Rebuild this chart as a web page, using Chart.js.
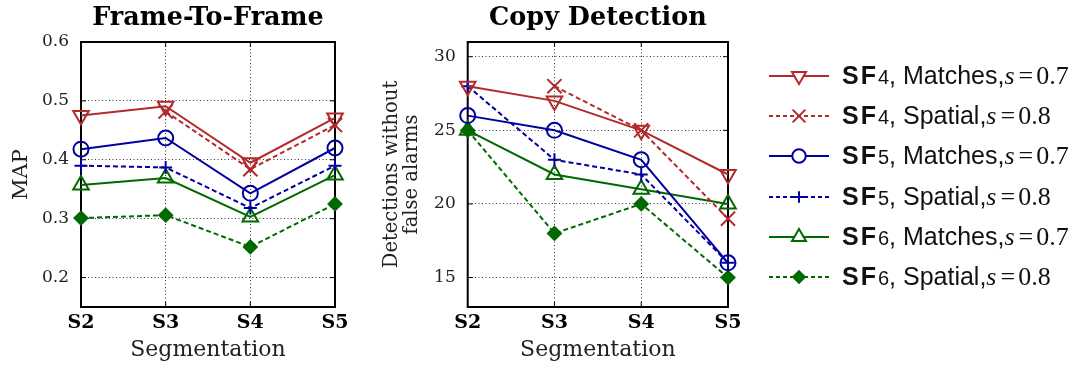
<!DOCTYPE html>
<html>
<head>
<meta charset="utf-8">
<script src="https://cdn.jsdelivr.net/npm/chart.js@4.4.1/dist/chart.umd.min.js"></script>
<style>
  body { margin: 0; background: #fff; width: 1084px; height: 365px; overflow: hidden; position: relative; }
  .box { position: absolute; top: 0; height: 365px; }
  #legend { position: absolute; left: 768px; top: 56px; }
  .row { display: flex; align-items: center; height: 40.2px; white-space: nowrap; }
  .row canvas { width: 62px; height: 26px; margin-right: 12px; }
  .lab { font-family: "Liberation Sans", Arial, sans-serif; font-size: 25px; color: #111; }
  .lab b { letter-spacing: 2px; }
  .lab .n { font-size: 20px; }
  .lab .m { font-family: "Liberation Serif", serif; font-size: 26px; }
  .lab .m .eq { margin: 0 3px 0 4px; }
</style>
</head>
<body>
<div class="box" style="left:0;width:360px"><canvas id="chart_f2f" width="360" height="365"></canvas></div>
<div class="box" style="left:370px;width:380px"><canvas id="chart_copy" width="380" height="365"></canvas></div>
<div id="legend"></div>
<script>
// segmentation levels on the x axis
var segments = ["S2", "S3", "S4", "S5"];

// Frame-To-Frame MAP
var mapSF4Matches = [0.475, 0.491, 0.395, 0.471];
var mapSF4Spatial = [null, 0.482, 0.384, 0.459];
var mapSF5Matches = [0.418, 0.437, 0.343, 0.420];
var mapSF5Spatial = [0.390, 0.387, 0.318, 0.390];
var mapSF6Matches = [0.357, 0.369, 0.303, 0.374];
var mapSF6Spatial = [0.301, 0.306, 0.252, 0.325];
var mapTicks = [0.2, 0.3, 0.4, 0.5, 0.6];

// Copy detection: detections without false alarms
var detSF4Matches = [28, 27, 25, 22];
var detSF4Spatial = [null, 28, 25, 19];
var detSF5Matches = [26, 25, 23, 16];
var detSF5Spatial = [28, 23, 22, 16];
var detSF6Matches = [25, 22, 21, 20];
var detSF6Spatial = [25, 18, 20, 15];
var detTicks = [15, 20, 25, 30];

var seriesNames = [
  ["SF", "4", "Matches", "0.7"],
  ["SF", "4", "Spatial", "0.8"],
  ["SF", "5", "Matches", "0.7"],
  ["SF", "5", "Spatial", "0.8"],
  ["SF", "6", "Matches", "0.7"],
  ["SF", "6", "Spatial", "0.8"]
];

var red = "#b22a2a", blue = "#0000a0", green = "#006a00";
var styles = [
  { color: red,   dash: [],     point: "triangle", rot: 180, r: 9,   fill: false },
  { color: red,   dash: [5, 3], point: "crossRot", rot: 0,   r: 10,  fill: false },
  { color: blue,  dash: [],     point: "circle",   rot: 0,   r: 7.5, fill: false },
  { color: blue,  dash: [5, 3], point: "cross",    rot: 0,   r: 6.5, fill: false },
  { color: green, dash: [],     point: "triangle", rot: 0,   r: 9,   fill: false },
  { color: green, dash: [5, 3], point: "rectRot",  rot: 0,   r: 6.5, fill: true }
];

var serif = "'DejaVu Serif', serif";

// box around the plot area with small inner ticks
var frame = {
  id: "frame",
  beforeDatasetsDraw: function (chart) {
    var ctx = chart.ctx, a = chart.chartArea, sx = chart.scales.x, sy = chart.scales.y;
    ctx.save();
    ctx.strokeStyle = "#000";
    ctx.lineWidth = 1;
    ctx.beginPath();
    sy.ticks.forEach(function (t) {
      var y = sy.getPixelForValue(t.value);
      ctx.moveTo(a.left, y); ctx.lineTo(a.left + 5, y);
      ctx.moveTo(a.right, y); ctx.lineTo(a.right - 5, y);
    });
    sx.ticks.forEach(function (t, i) {
      var x = sx.getPixelForTick(i);
      ctx.moveTo(x, a.bottom); ctx.lineTo(x, a.bottom - 5);
      ctx.moveTo(x, a.top); ctx.lineTo(x, a.top + 5);
    });
    ctx.stroke();
    ctx.lineWidth = 2;
    ctx.strokeRect(a.left, a.top, a.right - a.left, a.bottom - a.top);
    ctx.restore();
  }
};

function makeDatasets(values) {
  return values.map(function (v, i) {
    var s = styles[i];
    return {
      label: seriesNames[i].join(" "),
      data: v,
      borderColor: s.color,
      backgroundColor: s.fill ? s.color : "transparent",
      borderWidth: 2,
      borderDash: s.dash,
      pointStyle: s.point,
      pointRotation: s.rot,
      pointRadius: s.r,
      pointBorderWidth: 2,
      pointBackgroundColor: s.fill ? s.color : "transparent",
      pointBorderColor: s.color,
      tension: 0,
      spanGaps: false,
      clip: false
    };
  });
}

function makeChart(id, title, yTitle, yMin, yMax, ticks, fmt, yWidth, padRight, values) {
  var twoLines = Array.isArray(yTitle);
  return new Chart(document.getElementById(id), {
    type: "line",
    data: { labels: segments, datasets: makeDatasets(values) },
    plugins: [frame],
    options: {
      responsive: false,
      animation: false,
      layout: { padding: { top: 0, right: padRight, bottom: 0, left: 0 } },
      plugins: {
        legend: { display: false },
        tooltip: { enabled: false },
        title: {
          display: true,
          fullSize: false,
          text: title,
          color: "#000",
          font: { family: serif, size: 25.5, weight: "bold", lineHeight: 1.2 },
          padding: { top: 3.4, bottom: 8 }
        }
      },
      scales: {
        x: {
          type: "category",
          offset: false,
          border: { display: false, dash: [1, 2.5] },
          grid: { color: "#000", lineWidth: 0.8, drawTicks: false },
          ticks: { color: "#000", padding: 5, font: { family: serif, size: 19, weight: "bold" } },
          title: {
            display: true, text: "Segmentation", color: "#222",
            font: { family: serif, size: 22, lineHeight: 1.2 }, padding: { top: 0, bottom: 2 }
          },
          afterFit: function (scale) { scale.height = 58; }
        },
        y: {
          min: yMin,
          max: yMax,
          border: { display: false, dash: [1, 2.5] },
          grid: { color: "#000", lineWidth: 0.8, drawTicks: false },
          ticks: {
            color: "#222", padding: 12, font: { family: serif, size: 17 },
            callback: fmt
          },
          afterBuildTicks: function (scale) {
            scale.ticks = ticks.map(function (v) { return { value: v }; });
          },
          title: {
            display: true, text: yTitle, color: "#222",
            font: { family: serif, size: twoLines ? 19.5 : 21, lineHeight: twoLines ? 1.05 : 1.2 },
            padding: { top: twoLines ? 11.5 : 9.4, bottom: 0 }
          },
          afterFit: function (scale) { scale.width = yWidth; }
        }
      }
    }
  });
}

makeChart("chart_f2f", "Frame-To-Frame", "MAP", 0.15, 0.6, mapTicks,
  function (v) { return v.toFixed(1); }, 81, 25,
  [mapSF4Matches, mapSF4Spatial, mapSF5Matches, mapSF5Spatial, mapSF6Matches, mapSF6Spatial]);

makeChart("chart_copy", "Copy Detection", ["Detections without", "false alarms"], 13, 31, detTicks,
  function (v) { return String(v); }, 97.7, 22,
  [detSF4Matches, detSF4Spatial, detSF5Matches, detSF5Spatial, detSF6Matches, detSF6Spatial]);

// legend with line samples drawn using the same point styles
function buildLegend() {
  var box = document.getElementById("legend");
  seriesNames.forEach(function (n, i) {
    var s = styles[i];
    var row = document.createElement("div");
    row.className = "row";
    var c = document.createElement("canvas");
    c.width = 62; c.height = 26;
    row.appendChild(c);
    var lab = document.createElement("span");
    lab.className = "lab";
    lab.innerHTML = "<b>" + n[0] + "</b><span class='n'>" + n[1] + "</span>, " + n[2] +
      ",<span class='m'><i>s</i><span class='eq'>=</span>" + n[3] + "</span>";
    row.appendChild(lab);
    box.appendChild(row);

    var ctx = c.getContext("2d");
    ctx.strokeStyle = s.color;
    ctx.lineWidth = 2;
    ctx.setLineDash(s.dash.length ? [4, 3] : []);
    ctx.beginPath();
    ctx.moveTo(1, 13); ctx.lineTo(61, 13);
    ctx.stroke();
    ctx.setLineDash([]);
    ctx.fillStyle = s.fill ? s.color : "#fff";
    Chart.helpers.drawPoint(ctx, {
      pointStyle: s.point, rotation: s.rot, radius: s.r * 0.9, borderWidth: 2
    }, 31, 13);
  });
}
buildLegend();
</script>
</body>
</html>
